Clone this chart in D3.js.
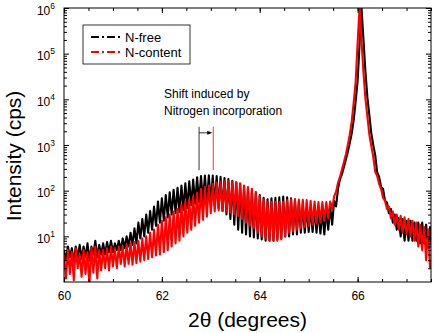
<!DOCTYPE html>
<html>
<head>
<meta charset="utf-8">
<script src="https://cdn.jsdelivr.net/npm/d3@7/dist/d3.min.js"></script>
<style>
  body { margin: 0; background: #fff; }
  svg { font-family: "Liberation Sans", Arial, sans-serif; }
</style>
</head>
<body>
<div id="chart"></div>
<script>
// scan: first angle and step (degrees 2theta)
var scanStart = 60;
var scanStep = 0.04;

// N-free sample, counts per second
var nFree = [
    5, 3, 6, 3.5, 5.5, 2.8, 6, 3.5, 6.5, 3.2,
    6, 3.5, 7, 3, 6, 4, 8, 3.5, 6.5, 4,
    7, 4, 7.5, 4.5, 8, 4.5, 7, 5, 8, 5,
    9, 5.5, 10, 6, 12, 6.5, 15, 7, 20, 9,
    24, 10, 30, 12, 36, 14, 45, 17, 58, 20,
    68, 22, 80, 26, 92, 30, 105, 32, 115, 34,
    130, 38, 145, 42, 160, 48, 175, 52, 195, 56,
    210, 56, 215, 55, 218, 52, 215, 48, 210, 42,
    200, 36, 190, 30, 180, 24, 165, 18, 150, 14,
    140, 12, 125, 11, 115, 10, 100, 9.5, 90, 9,
    80, 8.5, 70, 8, 65, 8, 68, 8, 70, 8.5,
    72, 9, 74, 10, 72, 10, 68, 11, 65, 11,
    58, 12, 50, 12, 45, 12.5, 42, 12.5, 40, 12,
    38, 11.5, 36, 11, 38, 14, 45, 18, 60, 45,
    110, 180, 230, 330, 480, 700, 1100, 1800, 3500, 9000,
    25000, 160000, 1000000, 200000, 40000, 11000, 4500, 1800, 1000, 600,
    250, 200, 120, 110, 60, 55, 32, 40, 20, 30,
    14, 25, 10, 24, 8, 22, 8, 22, 8, 20,
    8, 20, 7, 20, 7, 18, 6, 16, 5
];

// N-content sample
var nContent = [
    4, 1.2, 5, 1.5, 4.5, 1.1, 5.5, 2, 4, 1.3,
    5, 1.5, 4.5, 0.9, 5.5, 1.6, 6, 1.2, 5, 1.8,
    5, 2, 5.5, 1.8, 6, 2.2, 5.5, 2, 6, 2.5,
    6, 2.2, 6.5, 2.5, 7, 2.4, 7.5, 2.6, 8, 2.8,
    9, 3, 10, 3.2, 12, 3.5, 14, 3.8, 18, 4,
    22, 4.5, 26, 5, 30, 6, 35, 7, 40, 8,
    50, 10, 58, 12, 65, 14, 75, 17, 90, 20,
    110, 23, 120, 27, 130, 32, 140, 35, 150, 37,
    158, 36, 160, 35, 160, 33, 158, 30, 155, 28,
    145, 24, 130, 20, 120, 17, 110, 15, 95, 12,
    75, 10, 65, 9, 58, 8, 56, 8, 56, 8,
    56, 8.5, 58, 10, 62, 12, 64, 13, 64, 14,
    64, 15, 63, 16, 62, 17, 60, 18, 58, 19,
    56, 20, 56, 22, 56, 25, 58, 40, 75, 95,
    150, 200, 290, 420, 620, 1000, 1700, 3300, 8500, 24000,
    170000, 1000000, 190000, 38000, 10500, 4200, 1700, 950, 560, 260,
    210, 140, 110, 70, 60, 40, 45, 25, 35, 18,
    30, 14, 28, 12, 26, 11, 24, 10, 22, 8,
    20, 6, 18, 5, 16, 3, 14, 2
];

var seriesNames = ["N-free", "N-content"];
var seriesColors = ["#000000", "#ff0000"];
var xTicks = [60, 62, 64, 66];
var yExponents = [1, 2, 3, 4, 5, 6];

// annotation: peak positions before / after nitrogen
var shiftFrom = 62.76;
var shiftTo = 63.05;
var shiftLines = [280, 2500];
var shiftText = ["Shift induced by", "Nitrogen incorporation"];

function drawChart() {
    "use strict";
    var width = 436, height = 333;
    var margin = {top: 8, right: 5, bottom: 51, left: 64};

    var svg = d3.select("#chart")
        .append("svg")
        .attr("width", width)
        .attr("height", height);

    var x = d3.scaleLinear().domain([60, 67.5]).range([margin.left, width - margin.right]);
    var y = d3.scaleLog().domain([1, 1e6]).range([height - margin.bottom, margin.top]);

    //Clip to the plot frame
    svg.append("clipPath").attr("id", "plotclip")
        .append("rect")
        .attr("x", x(60)).attr("y", y(1e6))
        .attr("width", x(67.5) - x(60))
        .attr("height", y(1) - y(1e6));

    var line = d3.line()
        .x(function (d, i) { return x(scanStart + i * scanStep); })
        .y(function (d) { return y(d); });

    var plot = svg.append("g").attr("clip-path", "url(#plotclip)");
    [nFree, nContent].forEach(function (s, k) {
        plot.append("path")
            .datum(s)
            .attr("fill", "none")
            .attr("stroke", seriesColors[k])
            .attr("stroke-width", 2.1)
            .attr("stroke-linejoin", "round")
            .attr("d", line);
    });

    //Axes, ticks point inward on all four sides
    var minorX = d3.range(60, 67.51, 0.5);
    var minorY = [];
    for (var e = 0; e < 6; e++) {
        for (var m = 2; m < 10; m++) { minorY.push(m * Math.pow(10, e)); }
    }
    var majorY = yExponents.map(function (p) { return Math.pow(10, p); });

    function addAxis(axis, tx, ty) {
        var g = svg.append("g").attr("transform", "translate(" + tx + "," + ty + ")").call(axis);
        g.select(".domain").remove();
        g.selectAll("line").attr("stroke", "#000");
        return g;
    }

    var yb = y(1), yt = y(1e6), xl = x(60), xr = x(67.5);

    addAxis(d3.axisBottom(x).tickValues(minorX).tickSize(-3).tickFormat(""), 0, yb);
    var xa = addAxis(d3.axisBottom(x).tickValues(xTicks).tickSize(-5).tickPadding(9).tickFormat(d3.format("d")), 0, yb);
    xa.selectAll("text").style("font-size", "12px").attr("fill", "#000");
    addAxis(d3.axisTop(x).tickValues(minorX).tickSize(-3).tickFormat(""), 0, yt);
    addAxis(d3.axisTop(x).tickValues(xTicks).tickSize(-5).tickFormat(""), 0, yt);

    addAxis(d3.axisLeft(y).tickValues(minorY).tickSize(-3).tickFormat(""), xl, 0);
    var ya = addAxis(d3.axisLeft(y).tickValues(majorY).tickSize(-5).tickFormat(""), xl, 0);
    addAxis(d3.axisRight(y).tickValues(minorY).tickSize(-3).tickFormat(""), xr, 0);
    addAxis(d3.axisRight(y).tickValues(majorY).tickSize(-5).tickFormat(""), xr, 0);

    //Tick labels 10^n
    ya.selectAll(".tick").each(function (d) {
        var t = d3.select(this).append("text")
            .attr("x", -9)
            .attr("y", 6)
            .attr("text-anchor", "end")
            .attr("fill", "#000")
            .style("font-size", "12px");
        t.append("tspan").text("10");
        t.append("tspan")
            .attr("dy", -6)
            .style("font-size", "8.5px")
            .text(Math.round(Math.log10(d)));
    });

    //Frame
    svg.append("rect")
        .attr("x", xl).attr("y", yt)
        .attr("width", xr - xl).attr("height", yb - yt)
        .attr("fill", "none").attr("stroke", "#000").attr("stroke-width", 1);

    //Axis titles
    svg.append("text")
        .attr("x", (xl + xr) / 2)
        .attr("y", 327)
        .attr("text-anchor", "middle")
        .style("font-size", "21px")
        .text("2\u03b8 (degrees)");

    svg.append("text")
        .attr("transform", "translate(21,156) rotate(-90)")
        .attr("text-anchor", "middle")
        .style("font-size", "21px")
        .text("Intensity (cps)");

    //Legend
    var lg = svg.append("g").attr("transform", "translate(83,25)");
    lg.append("rect")
        .attr("width", 107).attr("height", 39)
        .attr("fill", "#fff").attr("stroke", "#000").attr("stroke-width", 0.8);
    seriesNames.forEach(function (n, k) {
        var yy = 12 + k * 15;
        lg.append("line")
            .attr("x1", 8).attr("x2", 39)
            .attr("y1", yy).attr("y2", yy)
            .attr("stroke", seriesColors[k])
            .attr("stroke-width", 1.8)
            .attr("stroke-dasharray", "8,3,2,3");
        lg.append("text")
            .attr("x", 42).attr("y", yy + 4.5)
            .style("font-size", "13px")
            .text(n);
    });

    //Annotation of the shift
    svg.selectAll(".shift_text")
        .data(shiftText)
        .enter()
        .append("text")
        .attr("x", 164)
        .attr("y", function (d, i) { return 98 + i * 17; })
        .style("font-size", "12px")
        .text(function (d) { return d; });

    [shiftFrom, shiftTo].forEach(function (v, k) {
        svg.append("line")
            .attr("x1", x(v)).attr("x2", x(v))
            .attr("y1", y(shiftLines[1])).attr("y2", y(shiftLines[0]))
            .attr("stroke", seriesColors[k])
            .attr("stroke-width", 0.8);
    });
    var ay = y(shiftLines[1]) + 6;
    svg.append("line")
        .attr("x1", x(shiftFrom)).attr("x2", x(shiftTo) - 4)
        .attr("y1", ay).attr("y2", ay)
        .attr("stroke", "#000").attr("stroke-width", 0.8);
    svg.append("path")
        .attr("d", "M" + (x(shiftTo) - 1) + "," + ay + "l-5,-2l0,4z")
        .attr("fill", "#000");
}

drawChart();
</script>
</body>
</html>
